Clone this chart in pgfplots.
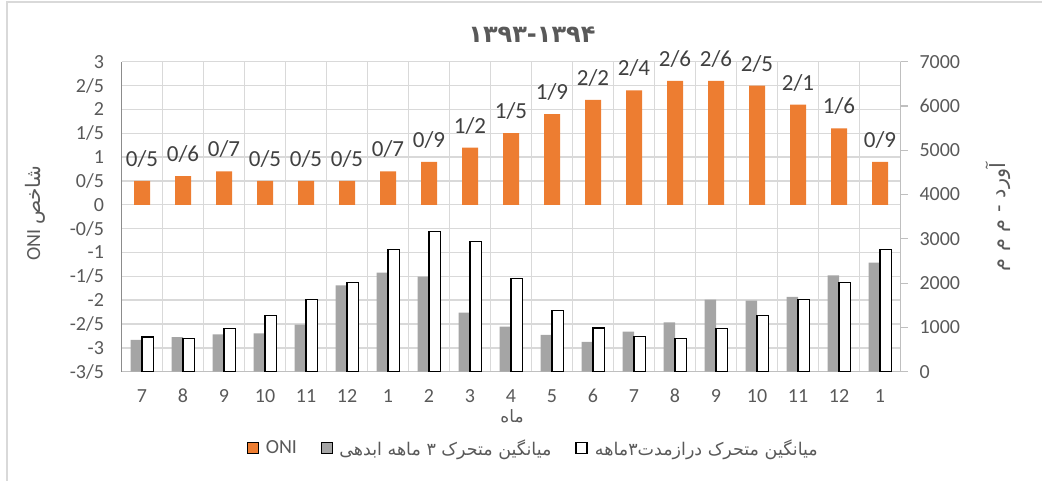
\documentclass[border=0pt]{standalone}
\usepackage{fontspec}
\usepackage{pgfplots}
\pgfplotsset{compat=1.18}
\setmainfont{Carlito}
\newfontfamily\arabicfont[Script=Arabic]{DejaVu Sans}
\TeXXeTstate=1
\definecolor{oni}{HTML}{ED7D31}
\definecolor{grayb}{HTML}{A5A5A5}
\definecolor{gridc}{HTML}{D9D9D9}
\definecolor{tickc}{HTML}{595959}
\definecolor{labc}{HTML}{404040}
\definecolor{laxis}{HTML}{8C8C8C}
\definecolor{raxis}{HTML}{BFBFBF}
\definecolor{framec}{HTML}{D9D9D9}
\begin{document}
\begin{tikzpicture}[x=1pt,y=1pt]
\useasboundingbox (0,0) rectangle (1042,481);
\draw[framec, line width=1.6pt] (7,-20) -- (7,479) -- (1060,479);
% primary axis: ONI
\begin{axis}[
  scale only axis, width=779pt, height=310pt,
  at={(121.5pt,109.3pt)}, anchor=south west,
  clip=false,
  xmin=-0.5, xmax=18.5, ymin=-3.5, ymax=3,
  axis y line*=left, axis x line*=bottom,
  axis line style={laxis, line width=1.2pt},
  x axis line style={raxis},
  ytick={-3.5,-3,...,3},
  yticklabels={-3/5,-3,-2/5,-2,-1/5,-1,-0/5,0,0/5,1,1/5,2,2/5,3},
  xtick={0,...,18},
  xticklabels={7,8,9,10,11,12,1,2,3,4,5,6,7,8,9,10,11,12,1},
  minor xtick={0.5,1.5,2.5,3.5,4.5,5.5,6.5,7.5,8.5,9.5,10.5,11.5,12.5,13.5,14.5,15.5,16.5,17.5},
  minor x grid style={draw=gridc, line width=1.6pt},
  y grid style={draw=gridc, line width=1.4pt},
  xminorgrids=true, ymajorgrids=true, xmajorgrids=false,
  major tick length=0pt, minor tick length=0pt,
  tick label style={font=\fontsize{20}{24}\selectfont, text=tickc},
  yticklabel style={xshift=-14pt},
  xticklabel style={yshift=-14pt},
  ybar, bar width=16pt,
  nodes near coords, point meta=explicit symbolic,
  every node near coord/.append style={font=\fontsize{23}{27}\selectfont, text=labc, yshift=10pt},
]
\addplot[fill=oni, draw=none] coordinates {
(0,0.5)[0/5] (1,0.6)[0/6] (2,0.7)[0/7] (3,0.5)[0/5] (4,0.5)[0/5] (5,0.5)[0/5]
(6,0.7)[0/7] (7,0.9)[0/9] (8,1.2)[1/2] (9,1.5)[1/5] (10,1.9)[1/9] (11,2.2)[2/2]
(12,2.4)[2/4] (13,2.6)[2/6] (14,2.6)[2/6] (15,2.5)[2/5] (16,2.1)[2/1] (17,1.6)[1/6] (18,0.9)[0/9]
};
\end{axis}
% secondary axis: flows
\begin{axis}[
  scale only axis, width=779pt, height=310pt,
  at={(121.5pt,109.3pt)}, anchor=south west,
  xmin=-0.5, xmax=18.5, ymin=0, ymax=7000,
  hide x axis,
  axis y line*=right,
  axis line style={raxis, line width=1.2pt},
  ytick={0,1000,...,7000},
  yticklabels={0,1000,2000,3000,4000,5000,6000,7000},
  tick align=outside, major tick length=7pt,
  ytick style={raxis, line width=1.2pt},
  tick label style={font=\fontsize{20}{24}\selectfont, text=tickc},
  yticklabel style={xshift=8.5pt},
  ybar=0pt, bar width=11.5pt,
  legend style={at={(0.529,-0.246)}, anchor=center, draw=none, fill=none,
    legend columns=3, font=\fontsize{20}{24}\selectfont, text=tickc,
    /tikz/every odd column/.append style={column sep=5pt},
    /tikz/every even column/.append style={column sep=22pt}},
  legend image code/.code={\draw[#1] (0pt,-5.5pt) rectangle (11pt,5.5pt);},
]
\addlegendimage{fill=oni, draw=none}
\addlegendentry{ONI}
\addplot[fill=grayb, draw=none] coordinates {
(0,716) (1,783) (2,844) (3,867) (4,1061) (5,1950) (6,2235) (7,2145) (8,1332) (9,1016)
(10,829) (11,671) (12,903) (13,1115) (14,1626) (15,1603) (16,1687) (17,2176) (18,2461)
};
\addlegendentry{{\arabicfont\fontsize{17.5}{21}\selectfont\beginR میانگین متحرک ۳ ماهه ابدهی\endR}}
\addplot[fill=white, draw=black, line width=1.5pt] coordinates {
(0,783) (1,754) (2,971) (3,1264) (4,1626) (5,2010) (6,2763) (7,3161) (8,2935) (9,2100)
(10,1377) (11,987) (12,790) (13,754) (14,971) (15,1264) (16,1634) (17,2010) (18,2763)
};
\addlegendentry{{\arabicfont\fontsize{17.5}{21}\selectfont\beginR میانگین متحرک درازمدت۳ماهه\endR}}
\end{axis}
% titles and axis labels
\node[text=tickc, font=\arabicfont\bfseries\fontsize{24}{28}\selectfont] at (532,446) {۱۳۹۳-۱۳۹۴};
\node[text=tickc, rotate=90] at (35,268) {\fontsize{20}{24}\selectfont ONI {\arabicfont\fontsize{20}{24}\selectfont\beginR شاخص\endR}};
\node[text=tickc, rotate=90] at (998,264) {\arabicfont\fontsize{21}{24}\selectfont\beginR آورد - م م م\endR};
\node[text=tickc] at (512,65) {\arabicfont\fontsize{17}{20}\selectfont\beginR ماه\endR};
\end{tikzpicture}
\end{document}
